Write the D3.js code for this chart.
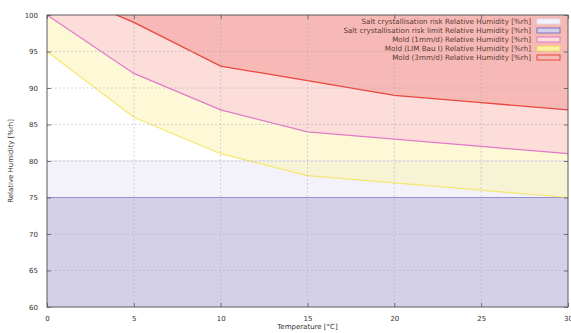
<!DOCTYPE html>
<html><head><meta charset="utf-8">
<script src="https://cdn.jsdelivr.net/npm/d3@7"></script>
<style>body{margin:0;background:#fff}svg{display:block}</style>
</head><body><svg id="c" width="571" height="333"></svg>
<script>
const temps = [0, 5, 10, 15, 20, 25, 30];
const mold3 = [104, 99, 93, 91, 89, 88, 87];
const mold1 = [100, 92, 87, 84, 83, 82, 81];
const moldLim = [95, 86, 81, 78, 77, 76, 75];
const saltRisk = [80, 80, 80, 80, 80, 80, 80];
const saltLimit = [75, 75, 75, 75, 75, 75, 75];
const xTicks = [0, 5, 10, 15, 20, 25, 30];
const yTicks = [60, 65, 70, 75, 80, 85, 90, 95, 100];
const legendLabels = [
  "Salt crystallisation risk Relative Humidity [%rh]",
  "Salt crystallisation risk limit  Relative Humidity [%rh]",
  "Mold (1mm/d) Relative Humidity [%rh]",
  "Mold (LIM Bau I) Relative Humidity [%rh]",
  "Mold (3mm/d) Relative Humidity [%rh]"
];

const svg = d3.select("#c");
const L = 47, R = 568, T = 15, B = 307;
const x = d3.scaleLinear().domain([0, 30]).range([L, R]);
const y = d3.scaleLinear().domain([60, 100]).range([B, T]);

svg.append("defs").append("clipPath").attr("id", "pc")
  .append("rect").attr("x", L).attr("y", T).attr("width", R - L).attr("height", B - T);
const g = svg.append("g").attr("clip-path", "url(#pc)");

const pts = vals => temps.map((t, i) => [t, vals[i]]);
const areaBetween = (lo, hi) => d3.area().x((d, i) => x(temps[i])).y0((d, i) => y(lo[i])).y1((d, i) => y(hi[i]))(temps);
const line = vals => d3.line().x(d => x(d[0])).y(d => y(d[1]))(pts(vals));
const upper = temps.map(() => 110);

g.append("path").attr("d", areaBetween(temps.map(() => 60), saltLimit)).attr("fill", "#d5d0ea");
g.append("path").attr("d", areaBetween(saltLimit, saltRisk)).attr("fill", "#f3f2fa");
g.append("path").attr("d", areaBetween(moldLim, upper)).attr("fill", "#fbf4b0").attr("fill-opacity", 0.5);
g.append("path").attr("d", areaBetween(mold1, upper)).attr("fill", "#fdddd9");
g.append("path").attr("d", areaBetween(mold3, upper)).attr("fill", "#f7b9b5");

const grid = svg.append("g");
xTicks.forEach(t => { if (t > 0 && t < 30) grid.append("line").attr("x1", x(t)).attr("x2", x(t)).attr("y1", T).attr("y2", B)
  .attr("stroke", "#a8a8c0").attr("stroke-width", 0.8).attr("stroke-dasharray", "1.5,2.5").attr("opacity", 0.8); });
yTicks.forEach(t => { if (t > 60 && t < 100) grid.append("line").attr("x1", L).attr("x2", R).attr("y1", y(t)).attr("y2", y(t))
  .attr("stroke", "#a8a8c0").attr("stroke-width", 0.8).attr("stroke-dasharray", "1.5,2.5").attr("opacity", 0.8); });

g.append("path").attr("d", line(saltRisk)).attr("fill", "none").attr("stroke", "#e4e2f2").attr("stroke-width", 1.2);
g.append("path").attr("d", line(saltLimit)).attr("fill", "none").attr("stroke", "#9488cc").attr("stroke-width", 1.2);
g.append("path").attr("d", line(moldLim)).attr("fill", "none").attr("stroke", "#f4e870").attr("stroke-width", 1.2);
g.append("path").attr("d", line(mold1)).attr("fill", "none").attr("stroke", "#e07ac8").attr("stroke-width", 1.2);
g.append("path").attr("d", line(mold3)).attr("fill", "none").attr("stroke", "#e8463e").attr("stroke-width", 1.3);

const font = "DejaVu Sans, sans-serif";
const xa = svg.append("g").attr("transform", `translate(0,${B})`)
  .call(d3.axisBottom(x).tickValues(xTicks).tickSize(-4).tickPadding(9));
const ya = svg.append("g").attr("transform", `translate(${L},0)`)
  .call(d3.axisLeft(y).tickValues(yTicks).tickSize(-4).tickPadding(9));
const xt = svg.append("g").attr("transform", `translate(0,${T})`)
  .call(d3.axisTop(x).tickValues(xTicks).tickSize(-4).tickFormat(""));
const yr = svg.append("g").attr("transform", `translate(${R},0)`)
  .call(d3.axisRight(y).tickValues(yTicks).tickSize(-4).tickFormat(""));
[xa, ya, xt, yr].forEach(a => {
  a.select(".domain").remove();
  a.selectAll(".tick line").attr("stroke", "#555").attr("stroke-width", 0.8);
  a.selectAll("text").attr("font-family", font).attr("font-size", 7).attr("fill", "#333");
});
svg.append("rect").attr("x", L).attr("y", T).attr("width", R - L).attr("height", B - T)
  .attr("fill", "none").attr("stroke", "#5a5a5a").attr("stroke-width", 1);

svg.append("text").attr("x", (L + R) / 2).attr("y", 329).attr("text-anchor", "middle")
  .attr("font-family", font).attr("font-size", 7).attr("fill", "#333").text("Temperature [°C]");
svg.append("text").attr("transform", `translate(13,${(T + B) / 2}) rotate(-90)`).attr("text-anchor", "middle")
  .attr("font-family", font).attr("font-size", 7).attr("fill", "#333").text("Relative Humidity [%rh]");

const legFill = ["#f3f2fa", "#d5d0ea", "#fdddd9", "#fbf0a8", "#f7b9b5"];
const legStroke = ["#e0dcf0", "#8070c4", "#e07ac8", "#f2d860", "#e8463e"];
const leg = svg.append("g");
legendLabels.forEach((lab, i) => {
  const yy = 21.5 + i * 9;
  leg.append("text").attr("x", 531).attr("y", yy + 2.5).attr("text-anchor", "end")
    .attr("font-family", font).attr("font-size", 7.2).attr("fill", "#5a3a36").text(lab);
  leg.append("rect").attr("x", 537).attr("y", yy - 2.5).attr("width", 23).attr("height", 5)
    .attr("fill", legFill[i]).attr("stroke", legStroke[i]).attr("stroke-width", 1);
});
</script></body></html>
